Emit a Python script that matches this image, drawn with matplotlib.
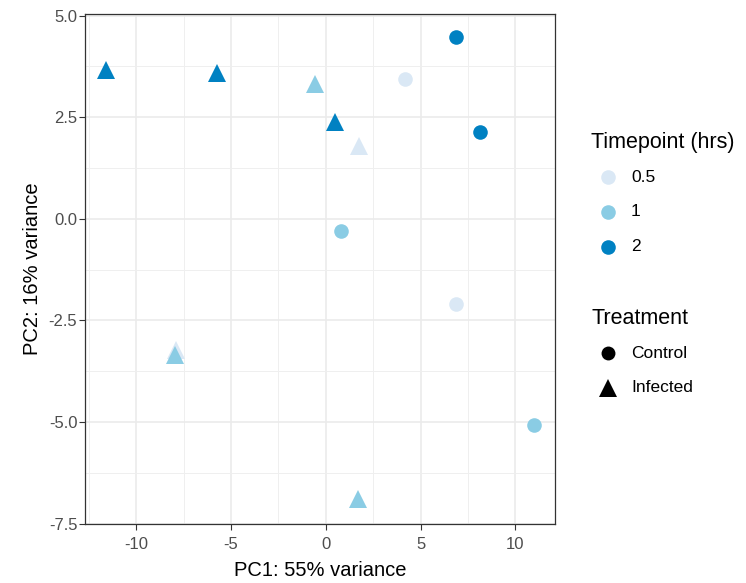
import matplotlib
matplotlib.use('Agg')
import matplotlib.pyplot as plt
from matplotlib.lines import Line2D
import numpy as np

plt.rcParams['font.family'] = ['Liberation Sans', 'DejaVu Sans']

# PCA coordinates
pc1 = [4.18, 6.84, 0.81, 10.96, 6.89, 8.12,
       1.74, -7.89, -0.56, -7.98, 1.67, -11.58, -5.72, 0.49]
pc2 = [3.45, -2.11, -0.29, -5.08, 4.47, 2.13,
       1.79, -3.24, 3.32, -3.36, -6.89, 3.66, 3.58, 2.39]
timepoint = ['0.5', '0.5', '1', '1', '2', '2',
             '0.5', '0.5', '1', '1', '1', '2', '2', '2']
treatment = ['Control'] * 6 + ['Infected'] * 8

tp_levels = ['0.5', '1', '2']
tp_colors = {'0.5': '#DAE8F5', '1': '#8ACCE4', '2': '#0081C2'}
tr_levels = ['Control', 'Infected']
tr_markers = {'Control': 'o', 'Infected': '^'}
tr_sizes = {'Control': 10.5, 'Infected': 13}

W, H = 746, 583
fig = plt.figure(figsize=(W / 100, H / 100), dpi=100)
ax = fig.add_axes([85 / W, (H - 523.5) / H, 470 / W, 509.5 / H])

for x, y, tp, tr in zip(pc1, pc2, timepoint, treatment):
    ax.plot(x, y, linestyle='none', marker=tr_markers[tr],
            markersize=tr_sizes[tr], color=tp_colors[tp],
            markeredgewidth=0, zorder=3)

# ggplot-like expansion
xr = max(pc1) - min(pc1)
yr = max(pc2) - min(pc2)
ax.set_xlim(min(pc1) - 0.05 * xr, max(pc1) + 0.05 * xr)
ax.set_ylim(min(pc2) - 0.05 * yr, max(pc2) + 0.05 * yr)

ax.set_xticks([-10, -5, 0, 5, 10])
ax.set_xticklabels(['-10', '-5', '0', '5', '10'])
ax.set_yticks([-7.5, -5, -2.5, 0, 2.5, 5])
ax.set_yticklabels(['-7.5', '-5.0', '-2.5', '0.0', '2.5', '5.0'])
ax.set_xticks([-12.5, -7.5, -2.5, 2.5, 7.5], minor=True)
ax.set_yticks([-6.25, -3.75, -1.25, 1.25, 3.75], minor=True)
ax.grid(which='major', color='#EBEBEB', linewidth=1.2, zorder=0)
ax.grid(which='minor', color='#EFEFEF', linewidth=0.7, zorder=0)
ax.set_axisbelow(True)
ax.tick_params(which='major', length=4, width=0.8, color='#333333',
               labelsize=12, labelcolor='#4D4D4D')
ax.tick_params(axis='x', which='major', pad=6)
ax.tick_params(axis='y', which='major', pad=1.5)
ax.tick_params(which='minor', length=0)
for s in ax.spines.values():
    s.set_color('#333333')
    s.set_linewidth(0.9)

ax.set_xlabel('PC1: 55% variance', fontsize=14.5, labelpad=6)
ax.set_ylabel('PC2: 16% variance', fontsize=14.5, labelpad=5)

# legends, placed by hand in pixel positions
def px(x, y):
    return x / W, 1 - y / H

fig.text(*px(591, 143), 'Timepoint (hrs)', fontsize=15.5, va='center', ha='left')
for i, tp in enumerate(tp_levels):
    yy = 177 + 35 * i
    fig.add_artist(Line2D([px(608, yy)[0]], [px(608, yy)[1]], marker='o',
                          markersize=10.5, color=tp_colors[tp],
                          markeredgewidth=0, linestyle='none'))
    fig.text(*px(631, yy), tp, fontsize=12.5, va='center', ha='left')

fig.text(*px(591, 319), 'Treatment', fontsize=15.5, va='center', ha='left')
for i, tr in enumerate(tr_levels):
    yy = 353 + 35 * i
    fig.add_artist(Line2D([px(608, yy)[0]], [px(608, yy)[1]],
                          marker=tr_markers[tr], markersize=tr_sizes[tr] - 0.5,
                          color='black', markeredgewidth=0, linestyle='none'))
    fig.text(*px(631, yy), tr, fontsize=12.5, va='center', ha='left')

fig.savefig('out.png', dpi=100)
